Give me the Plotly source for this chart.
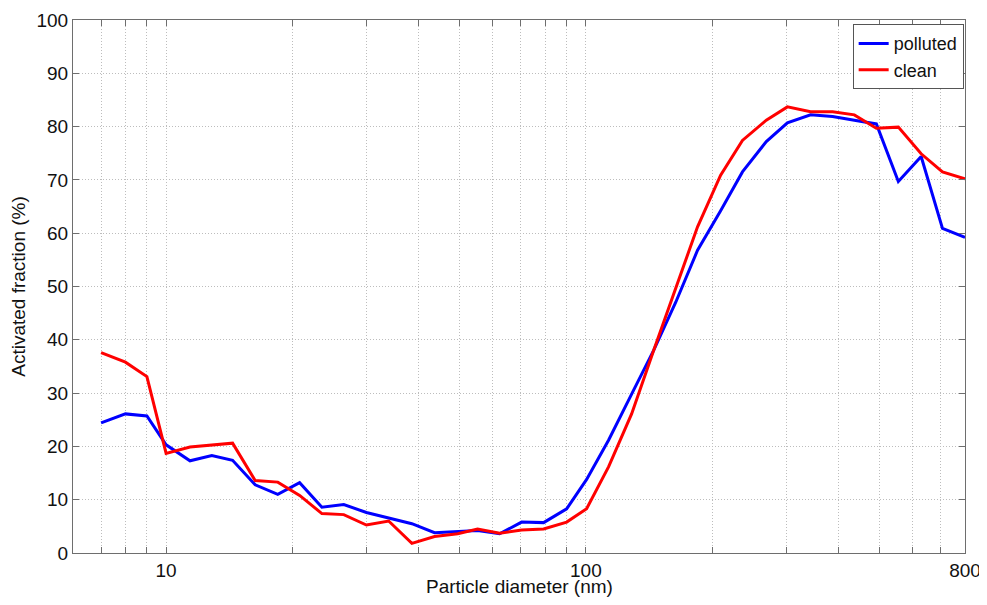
import plotly.graph_objects as go

# particle diameters (nm)
diameter = [7, 8, 9, 10, 11.4, 12.85, 14.4, 16.3, 18.45, 20.8, 23.5, 26.5, 30.0,
            33.9, 38.5, 43.6, 49.5, 55.2, 62.3, 70.3, 79.3, 90.0, 100.4, 113.3,
            128.5, 145, 163.6, 184.5, 209.4, 236, 269, 302, 343, 387, 436, 492,
            555, 629, 707, 800]

polluted = [24.4, 26.1, 25.7, 20.3, 17.3, 18.3, 17.4, 12.8, 11.0, 13.2, 8.6, 9.1, 7.6,
            6.6, 5.5, 3.8, 4.0, 4.2, 3.6, 5.8, 5.7, 8.3, 13.8, 21.2,
            29.8, 38.0, 47.0, 56.8, 64.2, 71.5, 77.2, 80.7, 82.2, 81.9, 81.2, 80.5,
            69.7, 74.4, 60.9, 59.2]

clean = [37.6, 35.8, 33.1, 18.7, 19.9, 20.3, 20.6, 13.6, 13.3, 10.8, 7.4, 7.2, 5.25,
         6.0, 1.8, 3.1, 3.6, 4.5, 3.7, 4.3, 4.5, 5.8, 8.3, 16.2,
         26.1, 38.0, 49.8, 61.2, 70.9, 77.4, 81.2, 83.7, 82.8, 82.8, 82.2, 79.7,
         79.9, 74.9, 71.5, 70.2]

x_grid = [7, 8, 9, 10, 20, 30, 40, 50, 60, 70, 80, 90, 100,
          200, 300, 400, 500, 600, 700, 800]
x_labels = ['10', '100', '800']

font = 'Liberation Sans, Arial, sans-serif'

fig = go.Figure()
fig.add_trace(go.Scatter(x=diameter, y=polluted, name='polluted', mode='lines',
                         line=dict(color='#0000ff', width=3)))
fig.add_trace(go.Scatter(x=diameter, y=clean, name='clean', mode='lines',
                         line=dict(color='#ff0000', width=3)))

ticktext = [str(v) if str(v) in x_labels else '' for v in x_grid]

axis_common = dict(
    showline=True, linecolor='#6e6e6e', linewidth=1, mirror='ticks',
    ticks='inside', ticklen=6, tickcolor='#6e6e6e',
    showgrid=True, gridcolor='#bdbdbd', griddash='1px,2px', gridwidth=1,
    zeroline=False, automargin=False, ticklabeloverflow='allow',
    tickfont=dict(family=font, size=19, color='#111111'),
)

# page body has an 8px margin, so the figure is sized to fit inside it
fig.update_layout(
    width=979, height=589,
    plot_bgcolor='white', paper_bgcolor='white',
    margin=dict(l=65, r=22, t=12, b=44),
    font=dict(family=font, color='#111111'),
    xaxis=dict(type='log', range=[0.7782, 2.9031], tickmode='array',
               tickvals=x_grid, ticktext=ticktext, ticklabelstandoff=0,
               **axis_common),
    yaxis=dict(range=[0, 100], tickmode='linear', tick0=0, dtick=10,
               title=dict(text='Activated fraction (%)', font=dict(size=19), standoff=8),
               **axis_common),
    legend=dict(x=0.9985, y=0.992, xanchor='right', yanchor='top',
                bgcolor='white', bordercolor='#555555', borderwidth=1,
                font=dict(family=font, size=18, color='#111111'),
                itemwidth=30, tracegroupgap=0),
    showlegend=True,
)

# x title as an annotation so it sits just under the tick labels
fig.add_annotation(text='Particle diameter (nm)', xref='paper', yref='paper',
                   x=0.5, y=0, xanchor='center', yanchor='middle', yshift=-33,
                   showarrow=False, font=dict(family=font, size=19, color='#111111'))

fig.write_html('out.html')
